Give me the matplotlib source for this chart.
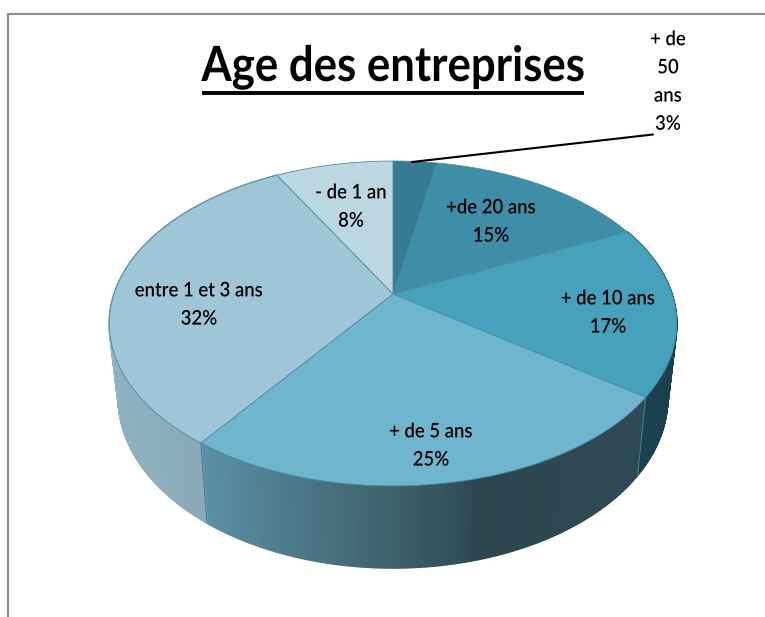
"""Age des entreprises: 3D-look pie drawn in pixel coordinates."""

import matplotlib

matplotlib.use("Agg")
import matplotlib.pyplot as plt
import numpy as np
from matplotlib.collections import PolyCollection
from matplotlib.colors import LinearSegmentedColormap
from matplotlib.patches import Polygon
from matplotlib.patheffects import AbstractPathEffect
from matplotlib.transforms import Affine2D

LABELS = ["+ de\n50\nans", "+de 20 ans", "+ de 10 ans", "+ de 5 ans", "entre 1 et 3 ans", "- de 1 an"]
VALUES = [3, 15, 17, 25, 32, 8]

TOP_COLORS = ["#367A94", "#3F8EA8", "#45A1BC", "#6FB5CE", "#9EC6D7", "#BDD7E2"]
WALL_COLORS = {
    2: [(0, "#1C414E"), (1, "#1C414E")],
    3: [(0, "#2F4A55"), (0.37, "#2D4751"), (0.55, "#3F5F6B"), (0.78, "#4C7786"), (1, "#5A90A3")],
    4: [(0, "#86A0AC"), (1, "#8FB2C0")],
}
LABEL_POS = [(668, 82), (491, 222), (608, 313), (431, 446), (199, 305), (351, 207)]

APEX = (393, 294)
RX, RY_SCALE, PERSP = 279, 157.1, 0.1815
WALL_SHRINK = 0.968
FONT = ["Lato", "Noto Sans", "DejaVu Sans"]


class Narrow(AbstractPathEffect):
    """Squeeze glyphs horizontally about a centre x, the source font is condensed."""

    def __init__(self, sx, cx):
        self.sx, self.cx = sx, cx

    def draw_path(self, renderer, gc, tpath, affine, rgbFace=None):
        x0 = affine.get_matrix()[0, 2]
        shift = (self.cx - x0) * (1 - self.sx)
        trans = Affine2D().scale(self.sx, 1) + affine + Affine2D().translate(shift, 0)
        renderer.draw_path(gc, tpath, trans, rgbFace)


def rim(theta_deg):
    """Perspective projection of a disc point, clockwise from 12 o'clock."""
    t = np.radians(theta_deg)
    u, v = np.sin(t), np.cos(t)
    w = 1 + PERSP * v
    return APEX[0] + RX * u / w, APEX[1] - RY_SCALE * v / w


def rim_low(xs, ys):
    """Lower edge of the wall: slightly smaller and further down towards the viewer."""
    return APEX[0] + WALL_SHRINK * (xs - APEX[0]), ys + 78 + 0.046 * (ys - 399)


fig = plt.figure(figsize=(7.65, 6.17), dpi=100)
ax = fig.add_axes([0, 0, 1, 1])
ax.set_xlim(0, 765)
ax.set_ylim(617, 0)
ax.axis("off")

# chart frame, cut off by the crop on the right and bottom
ax.plot([8.5, 8.5, 765], [617, 13.5, 13.5], color="#8E8E8E", lw=1.5, solid_joinstyle="miter")

edges = np.concatenate([[0], np.cumsum(VALUES)]) * 3.6

# side wall first, the top face hides whatever is behind
for i, colors in WALL_COLORS.items():
    angles = np.append(np.arange(edges[i], edges[i + 1], 0.5), edges[i + 1])
    xs, ys = rim(angles)
    xl, yl = rim_low(xs, ys)
    quads = [
        [(xs[j], ys[j]), (xs[j + 1], ys[j + 1]), (xl[j + 1], yl[j + 1]), (xl[j], yl[j])]
        for j in range(len(angles) - 1)
    ]
    cmap = LinearSegmentedColormap.from_list(f"wall{i}", colors)
    x_mid = (xs[:-1] + xs[1:]) / 2
    face = cmap(1 - (x_mid - x_mid.min()) / (x_mid.max() - x_mid.min()))
    ax.add_collection(PolyCollection(quads, facecolors=face, edgecolors=face, linewidths=1.2))

# slice seams on the visible wall
for i in (3, 4):
    x0, y0 = rim(edges[i])
    x1, y1 = rim_low(x0, y0)
    ax.plot([x0, x1], [y0, y1], color="#3E7F96", lw=0.7)

# top face
for i, color in enumerate(TOP_COLORS):
    angles = np.linspace(edges[i], edges[i + 1], 80)
    xs, ys = rim(angles)
    pts = np.column_stack([np.r_[APEX[0], xs], np.r_[APEX[1], ys]])
    ax.add_patch(Polygon(pts, closed=True, facecolor=color, edgecolor="#4A8CA3", lw=0.6, joinstyle="round"))

# leader line for the small slice
ax.plot([412, 653], [162, 134.5], color="black", lw=1.5, solid_capstyle="round")

for label, value, (x, y) in zip(LABELS, VALUES, LABEL_POS):
    ax.text(x, y, f"{label}\n{value}%", ha="center", va="center", fontsize=14.5, family=FONT,
            linespacing=1.8, color="black", fontweight="semibold",
            path_effects=[Narrow(0.92, x)])

ax.text(393, 81, "Age des entreprises", ha="center", va="baseline", fontsize=35, family=FONT,
        fontweight="bold", color="black", path_effects=[Narrow(0.9, 393)])
ax.plot([202, 584], [92.5, 92.5], color="black", lw=2.8, solid_capstyle="butt")

fig.savefig("out.png", dpi=100)
